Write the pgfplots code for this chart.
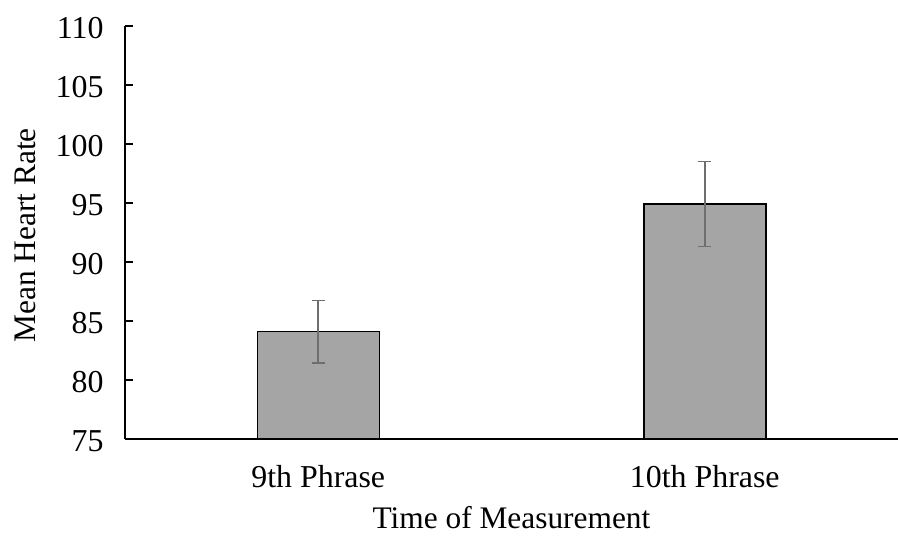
\documentclass[border=0pt]{standalone}
\usepackage{pgfplots}
\pgfplotsset{compat=1.18}
\usepackage{fontspec}
\setmainfont{Liberation Serif}
\definecolor{barfill}{HTML}{A5A5A5}
\definecolor{errcol}{HTML}{6E6E6E}
\begin{document}
\begin{tikzpicture}
\begin{axis}[
  name=ax,
  scale only axis,
  width=773bp, height=413bp,
  xmin=-0.5, xmax=1.5,
  ymin=75, ymax=110,
  ytick={75,80,...,110},
  xtick={0,1},
  xticklabels={9th Phrase,10th Phrase},
  extra x ticks={0.5},
  extra x tick labels={},
  extra x tick style={major tick length=9bp, tick style={black, line width=1.2pt}},
  axis x line*=bottom,
  axis y line*=left,
  x axis line style={-, line width=1.2pt},
  y axis line style={-, line width=1.2pt},
  tick align=inside,
  x tick style={draw=none},
  y tick style={black, line width=1.2pt},
  major tick length=8bp,
  tick label style={font=\fontsize{32}{36}\selectfont},
  label style={font=\fontsize{31.5}{36}\selectfont},
  /pgf/number format/assume math mode=true,
  yticklabel style={anchor=east, xshift=-18bp, yshift=-2bp},
  xticklabel style={anchor=base, yshift=-40bp},
  xlabel={Time of Measurement},
  ylabel={Mean Heart Rate},
  xlabel style={at={(axis description cs:0.5,0)}, anchor=base, yshift=-89bp},
  ylabel style={at={(axis description cs:0,0.5)}, anchor=center, yshift=100bp, xshift=-3bp},
  ybar, bar width=122bp,
  clip=false,
]
\addplot[fill=barfill, draw=black, line width=1.5pt,
  error bars/.cd, y dir=both, y explicit,
  error bar style={errcol, line width=1.6pt},
  error mark options={rotate=90, mark size=6.5bp, errcol, line width=1.6pt}]
  coordinates {(0,84.1) +- (0,2.65) (1,94.9) +- (0,3.6)};
\end{axis}
\pgfresetboundingbox
\path[use as bounding box] ([xshift=-125bp,yshift=-100bp]ax.south west) rectangle ([yshift=26bp]ax.north east);
\end{tikzpicture}
\end{document}
